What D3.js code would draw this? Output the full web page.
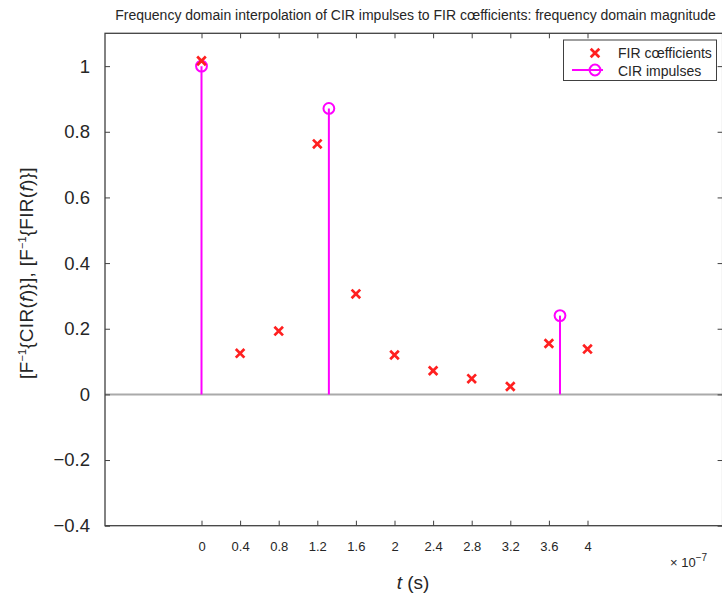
<!DOCTYPE html>
<html><head><meta charset="utf-8">
<script src="https://cdn.jsdelivr.net/npm/d3@7"></script>
<style>body{margin:0;background:#fff;} text{font-family:"Liberation Sans",Arial,sans-serif;fill:#262626;}</style>
</head><body>
<svg id="c" width="722" height="598"></svg>
<script>
const firTimes = [0, 0.4, 0.8, 1.2, 1.6, 2, 2.4, 2.8, 3.2, 3.6, 4];
const firValues = [1.016, 0.125, 0.193, 0.763, 0.306, 0.12, 0.072, 0.048, 0.024, 0.155, 0.138];
const cirTimes = [0, 1.32, 3.715];
const cirValues = [1.0, 0.871, 0.24];
const xTicks = [0, 0.4, 0.8, 1.2, 1.6, 2, 2.4, 2.8, 3.2, 3.6, 4];
const yTicks = [-0.4, -0.2, 0, 0.2, 0.4, 0.6, 0.8, 1];
const title = "Frequency domain interpolation of CIR impulses to FIR cœfficients: frequency domain magnitude";

const L = 105, R = 722.6, T = 33.3, B = 525.7;
const svg = d3.select("#c");
const x = d3.scaleLinear().domain([-1, 5.4]).range([L, R]);
const y = d3.scaleLinear().domain([-0.4, 1.1]).range([B, T]);
const axisCol = "#404040";

// zero line
svg.append("line").attr("x1", L).attr("x2", R).attr("y1", y(0)).attr("y2", y(0))
  .attr("stroke", "#aaaaaa").attr("stroke-width", 2);

// stems
const g = svg.append("g");
g.selectAll("line.stem").data(cirTimes).enter().append("line")
  .attr("x1", (d) => x(d)).attr("x2", (d) => x(d))
  .attr("y1", y(0)).attr("y2", (d, i) => y(cirValues[i]))
  .attr("stroke", "#ff00ff").attr("stroke-width", 2);
g.selectAll("circle").data(cirTimes).enter().append("circle")
  .attr("cx", (d) => x(d)).attr("cy", (d, i) => y(cirValues[i])).attr("r", 5.4)
  .attr("fill", "none").attr("stroke", "#ff00ff").attr("stroke-width", 2);

// FIR crosses
const cs = 4.3;
function cross(sel, cx, cy) {
  sel.append("path").attr("d", `M${cx-cs},${cy-cs}L${cx+cs},${cy+cs}M${cx-cs},${cy+cs}L${cx+cs},${cy-cs}`)
    .attr("stroke", "#ff2020").attr("stroke-width", 2.7).attr("fill", "none");
}
firTimes.forEach((t, i) => cross(g, x(t), y(firValues[i])));

// axes box
const tl = 5;
svg.append("g").attr("transform", `translate(0,${B})`)
  .call(d3.axisBottom(x).tickValues(xTicks).tickSize(-tl).tickPadding(16).tickFormat(d3.format("~g")))
  .call(a => { a.select(".domain").remove(); a.selectAll("line").attr("stroke", axisCol);
    a.selectAll("text").attr("font-size", 13).attr("fill", "#262626").style("font-family", "Liberation Sans, Arial"); });
svg.append("g").attr("transform", `translate(0,${T})`)
  .call(d3.axisTop(x).tickValues(xTicks).tickSize(-tl).tickFormat(""))
  .call(a => { a.select(".domain").remove(); a.selectAll("line").attr("stroke", axisCol); });
svg.append("g").attr("transform", `translate(${L},0)`)
  .call(d3.axisLeft(y).tickValues(yTicks).tickSize(-tl).tickPadding(15).tickFormat(d => d3.format("~g")(d).replace("-", "\u2212")))
  .call(a => { a.select(".domain").remove(); a.selectAll("line").attr("stroke", axisCol);
    a.selectAll("text").attr("font-size", 18.5).attr("fill", "#262626").style("font-family", "Liberation Sans, Arial"); });
svg.append("g").attr("transform", `translate(${R},0)`)
  .call(d3.axisRight(y).tickValues(yTicks).tickSize(-tl).tickFormat(""))
  .call(a => { a.select(".domain").remove(); a.selectAll("line").attr("stroke", axisCol); });
svg.append("rect").attr("x", L).attr("y", T).attr("width", R - L).attr("height", B - T)
  .attr("fill", "none").attr("stroke", axisCol).attr("stroke-width", 1.3);

// title
svg.append("text").attr("x", (L + 722) / 2 + 2).attr("y", 20).attr("text-anchor", "middle")
  .attr("font-size", 14).text(title);

// x label
const xl = svg.append("text").attr("x", 413).attr("y", 589).attr("text-anchor", "middle").attr("font-size", 19);
xl.append("tspan").attr("font-style", "italic").text("t");
xl.append("tspan").text(" (s)");
// exponent
const ex = svg.append("text").attr("x", 670).attr("y", 567).attr("font-size", 13);
ex.append("tspan").text("× 10");
ex.append("tspan").attr("dy", -6).attr("font-size", 10).text("−7");

// y label
const yl = svg.append("text").attr("transform", `translate(33,273) rotate(-90)`)
  .attr("text-anchor", "middle").attr("font-size", 19).attr("letter-spacing", 0.3);
function sup(t) { yl.append("tspan").attr("dy", -7).attr("font-size", 11).attr("letter-spacing", 0).text(t); }
function down() { return yl.append("tspan").attr("dy", 7); }
yl.append("tspan").text("[F");
sup("−1");
down().text("{CIR(");
yl.append("tspan").attr("font-style", "italic").text("f");
yl.append("tspan").text(")}], [F");
sup("−1");
down().text("{FIR(");
yl.append("tspan").attr("font-style", "italic").text("f");
yl.append("tspan").text(")}]");

// legend
const lg = svg.append("g");
lg.append("rect").attr("x", 563.5).attr("y", 40).attr("width", 153).attr("height", 40.5)
  .attr("fill", "#fff").attr("stroke", axisCol).attr("stroke-width", 1);
cross(lg, 595, 53);
lg.append("text").attr("x", 618).attr("y", 57.5).attr("font-size", 14).text("FIR cœfficients");
lg.append("line").attr("x1", 572).attr("x2", 603).attr("y1", 70).attr("y2", 70).attr("stroke", "#ff00ff").attr("stroke-width", 2);
lg.append("circle").attr("cx", 595).attr("cy", 70).attr("r", 5.4).attr("fill", "none").attr("stroke", "#ff00ff").attr("stroke-width", 2);
lg.append("text").attr("x", 618).attr("y", 75.5).attr("font-size", 14).text("CIR impulses");
</script>
</body></html>
